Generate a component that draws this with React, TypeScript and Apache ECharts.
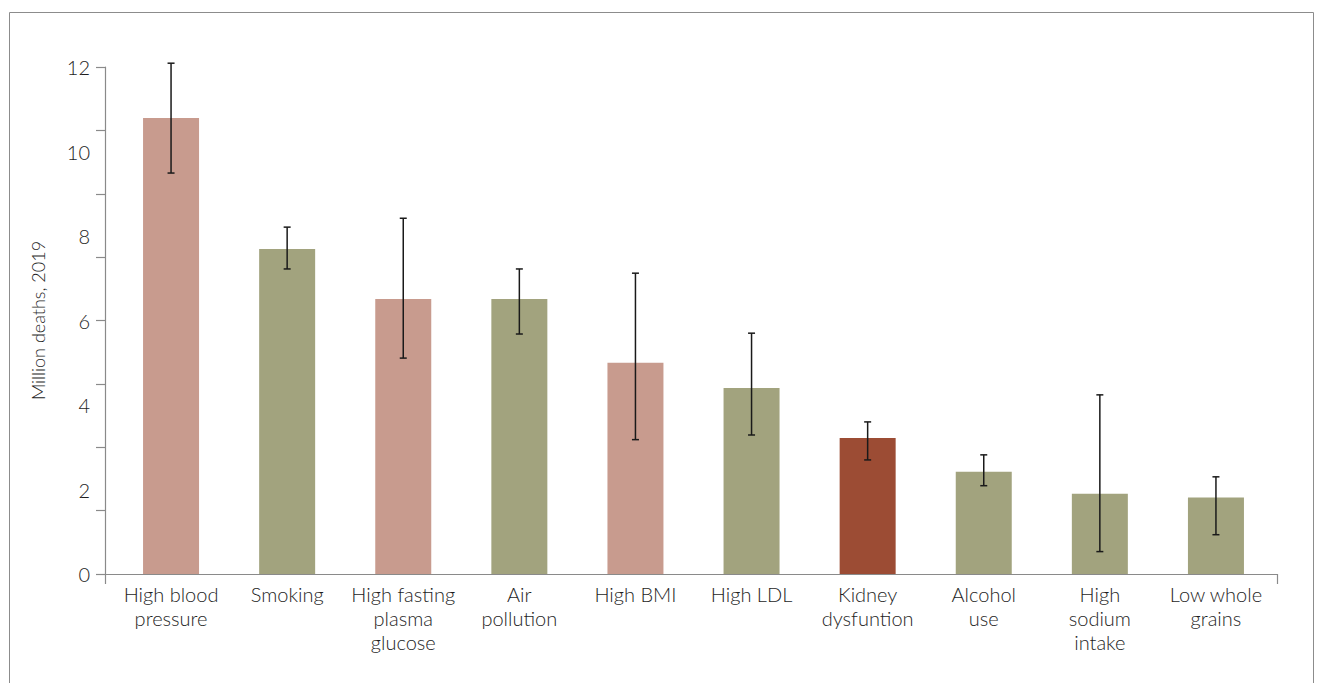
import React, { useEffect, useRef } from "react";
import * as echarts from "echarts";

const categories = [
  "High blood\npressure",
  "Smoking",
  "High fasting\nplasma\nglucose",
  "Air\npollution",
  "High BMI",
  "High LDL",
  "Kidney\ndysfuntion",
  "Alcohol\nuse",
  "High\nsodium\nintake",
  "Low whole\ngrains",
];
const values = [10.79, 7.69, 6.51, 6.51, 5.0, 4.4, 3.22, 2.42, 1.9, 1.81];
const lower = [9.49, 7.22, 5.11, 5.68, 3.18, 3.29, 2.7, 2.09, 0.53, 0.93];
const upper = [12.09, 8.21, 8.42, 7.22, 7.12, 5.7, 3.6, 2.82, 4.24, 2.3];
const groups = ["pink", "olive", "pink", "olive", "pink", "olive", "brown", "olive", "olive", "olive"];
const palette: Record<string, string> = { pink: "#C89B8E", olive: "#A2A37E", brown: "#9C4C34" };
const yLabelTicks = [0, 2, 4, 6, 8, 10, 12];

const FONT = "Lato, 'Open Sans', sans-serif";
const AXIS_COLOR = "#8a8a8a";
const TEXT_COLOR = "#1e1e1e";

export default function App() {
  const ref = useRef<HTMLDivElement>(null);
  useEffect(() => {
    document.body.style.margin = "0";
    const chart = echarts.init(ref.current!, null, { renderer: "svg" });
    chart.setOption({
      animation: false,
      textStyle: { fontFamily: FONT },
      graphic: [
        {
          type: "rect",
          shape: { x: 9.5, y: 12.5, width: 1304, height: 720 },
          style: { fill: "none", stroke: "#8c8c8c", lineWidth: 1 },
          silent: true,
        },
      ],
      grid: [
        { left: 113, right: 48, top: 67, bottom: 109 },
        { left: 105, right: 45, top: 67, bottom: 109 },
      ],
      xAxis: [
        {
          type: "category",
          gridIndex: 0,
          data: categories,
          axisLine: { show: false },
          axisTick: { show: false },
          axisLabel: {
            interval: 0,
            fontSize: 20,
            fontWeight: 300,
            lineHeight: 24,
            margin: 8,
            color: TEXT_COLOR,
            fontFamily: FONT,
          },
        },
        {
          type: "category",
          gridIndex: 1,
          data: categories,
          axisLine: { show: true, lineStyle: { color: AXIS_COLOR, width: 1.2 } },
          axisTick: {
            show: true,
            interval: (i: number) => i === 0,
            length: 10,
            lineStyle: { color: AXIS_COLOR, width: 1.2 },
          },
          axisLabel: { show: false },
        },
      ],
      yAxis: [
        {
          type: "value",
          gridIndex: 0,
          min: 0,
          max: 12,
          show: false,
        },
        {
          type: "value",
          gridIndex: 1,
          min: 0,
          max: 12,
          interval: 1.5,
          position: "left",
          axisLine: { show: true, lineStyle: { color: AXIS_COLOR, width: 1.2 } },
          axisTick: { show: true, length: 9, lineStyle: { color: AXIS_COLOR, width: 1.2 } },
          axisLabel: { show: false },
          splitLine: { show: false },
        },
        {
          type: "value",
          gridIndex: 1,
          min: 0,
          max: 12,
          interval: 2,
          position: "left",
          axisLine: { show: false },
          axisTick: { show: false },
          splitLine: { show: false },
          axisLabel: {
            margin: 15,
            fontSize: 20,
            fontWeight: 300,
            color: TEXT_COLOR,
            fontFamily: FONT,
            formatter: (v: number) => (yLabelTicks.includes(v) ? String(v) : ""),
          },
          name: "Million deaths, 2019",
          nameLocation: "middle",
          nameGap: 58,
          nameTextStyle: { fontSize: 18, fontWeight: 300, color: TEXT_COLOR, fontFamily: FONT },
        },
      ],
      series: [
        {
          type: "bar",
          xAxisIndex: 0,
          yAxisIndex: 0,
          barWidth: 56,
          data: values.map((v, i) => ({ value: v, itemStyle: { color: palette[groups[i]] } })),
        },
        {
          type: "custom",
          xAxisIndex: 0,
          yAxisIndex: 0,
          data: values.map((_, i) => [i, lower[i], upper[i]]),
          renderItem: (_params: any, api: any) => {
            const x = api.value(0);
            const top = api.coord([x, api.value(2)]);
            const bot = api.coord([x, api.value(1)]);
            const half = 3.5;
            const style = { stroke: "#1a1a1a", lineWidth: 1.5 };
            return {
              type: "group",
              children: [
                { type: "line", shape: { x1: top[0], y1: top[1], x2: bot[0], y2: bot[1] }, style },
                { type: "line", shape: { x1: top[0] - half, y1: top[1], x2: top[0] + half, y2: top[1] }, style },
                { type: "line", shape: { x1: bot[0] - half, y1: bot[1], x2: bot[0] + half, y2: bot[1] }, style },
              ],
            };
          },
          z: 5,
        },
      ],
    });
    return () => chart.dispose();
  }, []);
  return (
    <div
      ref={ref}
      style={{ position: "fixed", left: 0, top: 0, width: 1322, height: 683, background: "#fff" }}
    />
  );
}
